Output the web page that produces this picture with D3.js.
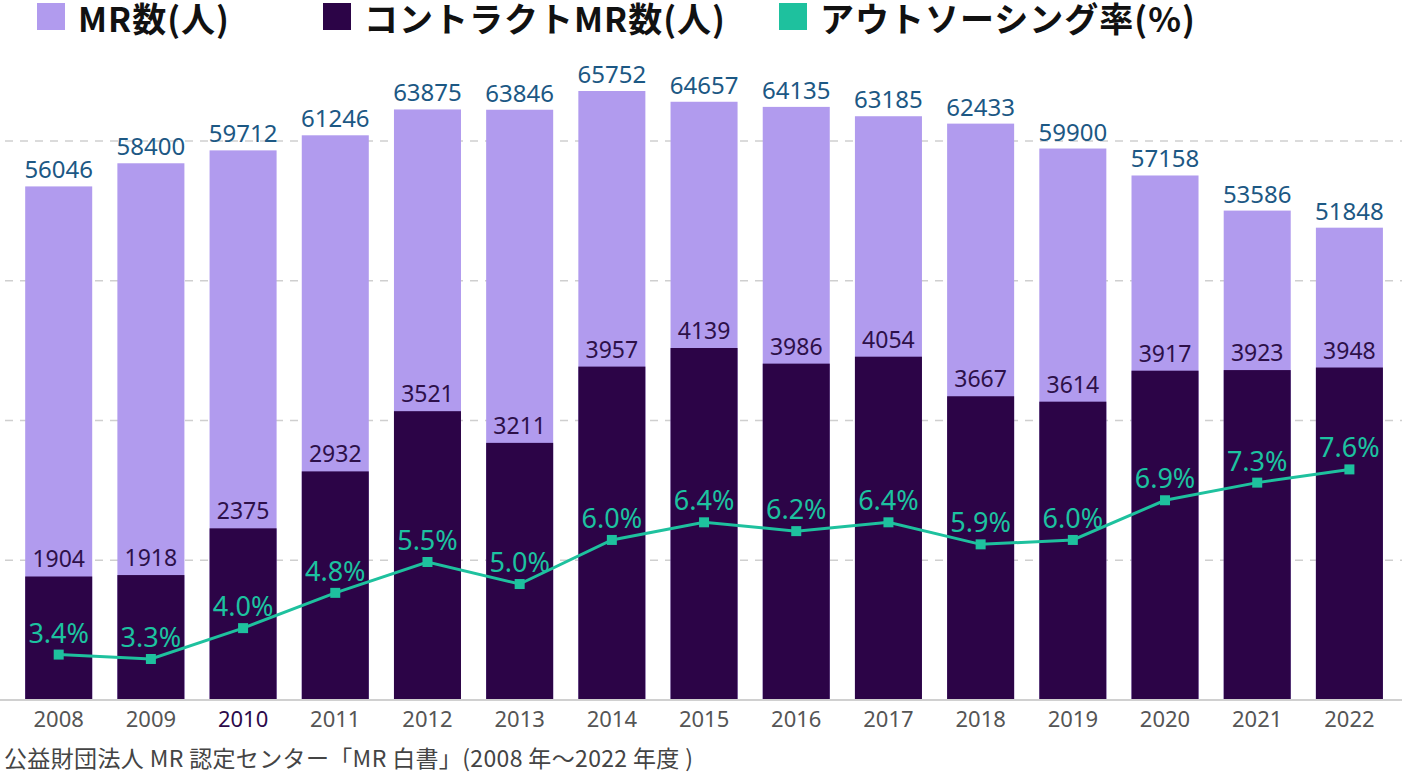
<!DOCTYPE html>
<html>
<head>
<meta charset="utf-8">
<script src="https://cdn.jsdelivr.net/npm/d3@7"></script>
<style>
  html, body { margin: 0; padding: 0; background: #fff; }
  svg { display: block; }
</style>
</head>
<body>
<svg id="chart" width="1408" height="774"></svg>
<script>
// ---- data ----
const years = ["2008","2009","2010","2011","2012","2013","2014","2015","2016","2017","2018","2019","2020","2021","2022"];
const mrCount = [56046, 58400, 59712, 61246, 63875, 63846, 65752, 64657, 64135, 63185, 62433, 59900, 57158, 53586, 51848];
const contractMR = [1904, 1918, 2375, 2932, 3521, 3211, 3957, 4139, 3986, 4054, 3667, 3614, 3917, 3923, 3948];
const outsourcingRate = [3.4, 3.3, 4.0, 4.8, 5.5, 5.0, 6.0, 6.4, 6.2, 6.4, 5.9, 6.0, 6.9, 7.3, 7.6];
const legendLabels = ["MR数(人)", "コントラクトMR数(人)", "アウトソーシング率(%)"];
const sourceNote = "公益財団法人 MR 認定センター「MR 白書」(2008 年〜2022 年度 )";

const rows = years.map((y, i) => ({ year: y, mr: mrCount[i], cmr: contractMR[i], rate: outsourcingRate[i] }));

const colors = { mr: "#b19bee", cmr: "#2c0447", rate: "#1ec19e" };
const numFont = "'Noto Sans', 'Noto Sans CJK JP', sans-serif";
const jpFont = "'Noto Sans CJK JP', 'Noto Sans', sans-serif";

const svg = d3.select("#chart");
const baseY = 700, topY = 141;

const x = d3.scaleBand().domain(years).range([12.6, 1395.5]).paddingInner(0.273).paddingOuter(0.1365);
const yMR = d3.scaleLinear().domain([3800, 65752]).range([baseY, 91]);
const yCMR = d3.scaleLinear().domain([696, 4139]).range([baseY, 348]);
const yRate = d3.scaleLinear().domain([2.37, 7.6]).range([baseY, 469.4]);
const yGrid = d3.scaleLinear().domain([0, 4]).range([baseY, topY]);

// gridlines
svg.append("g").selectAll("line").data(yGrid.ticks(4).filter(d => d > 0)).join("line")
  .attr("x1", 5).attr("x2", 1402)
  .attr("y1", d => yGrid(d)).attr("y2", d => yGrid(d))
  .attr("stroke", "#cfcfcf").attr("stroke-width", 1.5).attr("stroke-dasharray", "8,7");

// MR bars
svg.append("g").selectAll("rect").data(rows).join("rect")
  .attr("x", d => x(d.year)).attr("width", x.bandwidth())
  .attr("y", d => yMR(d.mr)).attr("height", d => baseY - yMR(d.mr))
  .attr("fill", colors.mr);

// Contract MR bars
svg.append("g").selectAll("rect").data(rows).join("rect")
  .attr("x", d => x(d.year)).attr("width", x.bandwidth())
  .attr("y", d => yCMR(d.cmr)).attr("height", d => baseY - yCMR(d.cmr))
  .attr("fill", colors.cmr);

// x axis
const xAxis = d3.axisBottom(x).tickSize(0).tickPadding(0);
const gx = svg.append("g").attr("transform", `translate(0,${baseY})`).call(xAxis);
gx.select(".domain").remove();
gx.selectAll("text")
  .attr("y", 27).attr("dy", 0)
  .attr("font-family", numFont).attr("font-size", 22)
  .attr("fill", d => d === "2010" ? "#2c0a4a" : "#555");
svg.append("line").attr("x1", 0).attr("x2", 1402).attr("y1", baseY).attr("y2", baseY)
  .attr("stroke", "#d0d0d0").attr("stroke-width", 2);

// MR labels
svg.append("g").selectAll("text").data(rows).join("text")
  .attr("x", d => x(d.year) + x.bandwidth() / 2).attr("y", d => yMR(d.mr) - 8)
  .attr("text-anchor", "middle").attr("font-family", numFont).attr("font-size", 24)
  .attr("fill", "#1c5884").text(d => d.mr);

// Contract MR labels
svg.append("g").selectAll("text").data(rows).join("text")
  .attr("x", d => x(d.year) + x.bandwidth() / 2).attr("y", d => yCMR(d.cmr) - 9)
  .attr("text-anchor", "middle").attr("font-family", numFont).attr("font-size", 23)
  .attr("fill", "#2d1049").text(d => d.cmr);

// rate line
const line = d3.line().x(d => x(d.year) + x.bandwidth() / 2).y(d => yRate(d.rate));
svg.append("path").datum(rows).attr("d", line)
  .attr("fill", "none").attr("stroke", colors.rate).attr("stroke-width", 3);
svg.append("g").selectAll("rect").data(rows).join("rect")
  .attr("x", d => x(d.year) + x.bandwidth() / 2 - 5).attr("y", d => yRate(d.rate) - 5)
  .attr("width", 10).attr("height", 10).attr("fill", colors.rate);
svg.append("g").selectAll("text").data(rows).join("text")
  .attr("x", d => x(d.year) + x.bandwidth() / 2).attr("y", d => yRate(d.rate) - 12)
  .attr("text-anchor", "middle").attr("font-family", numFont).attr("font-size", 27)
  .attr("fill", "#1cc2a0").text(d => d3.format(".1f")(d.rate) + "%");

// legend
const legendX = [37, 323, 779];
const legendColors = [colors.mr, colors.cmr, colors.rate];
const lg = svg.append("g");
legendLabels.forEach((t, i) => {
  lg.append("rect").attr("x", legendX[i]).attr("y", 3).attr("width", 28).attr("height", 27).attr("fill", legendColors[i]);
  lg.append("text").attr("x", legendX[i] + 41).attr("y", 32)
    .attr("font-family", jpFont).attr("font-weight", 700).attr("font-size", 34)
    .attr("letter-spacing", 1)
    .attr("fill", "#111").text(t);
});

// source
svg.append("text").attr("x", 4).attr("y", 767)
  .attr("font-family", jpFont).attr("font-size", 23).attr("fill", "#444")
  .attr("textLength", 689).attr("lengthAdjust", "spacing").text(sourceNote);
</script>
</body>
</html>
